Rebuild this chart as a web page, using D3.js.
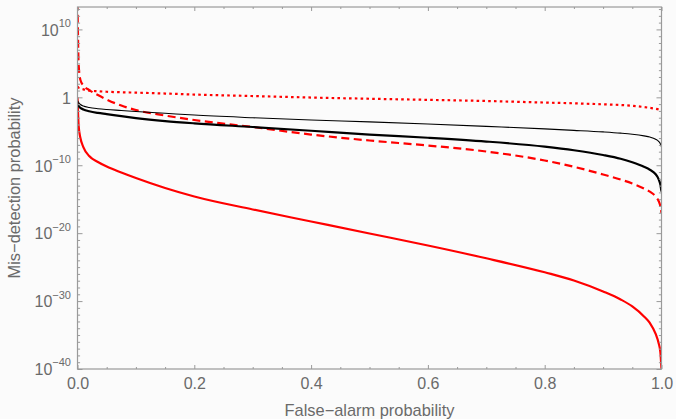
<!DOCTYPE html>
<html><head><meta charset="utf-8">
<script src="https://cdn.jsdelivr.net/npm/d3@7/dist/d3.min.js"></script>
<style>
html,body{margin:0;padding:0;background:#fbfbfb;}
svg{display:block;}
text{font-family:"Liberation Sans",Arial,sans-serif;}
</style></head>
<body>
<svg id="chart" width="676" height="419"></svg>
<script>
// False-alarm probability sample points
const pfa = [0, 0.002, 0.005, 0.01, 0.02, 0.035, 0.05, 0.075, 0.1, 0.15, 0.2, 0.3, 0.4, 0.5, 0.6, 0.7, 0.8, 0.85, 0.9, 0.93, 0.95, 0.97, 0.98, 0.99, 0.995, 0.998, 1.0];
// log10 of mis-detection probability for each curve
const redSolidLog = [0, -4.22, -5.99, -7.32, -8.64, -9.52, -10.19, -11.07, -11.88, -13.35, -14.60, -16.51, -18.28, -20.05, -21.81, -23.70, -25.76, -26.96, -28.58, -29.76, -30.79, -32.26, -33.22, -34.84, -36.16, -37.49, -40];
const redDashedLog = [14, 4.75, 2.55, 1.74, 1.07, 0.34, -0.32, -1.21, -1.87, -2.68, -3.34, -4.37, -5.48, -6.36, -7.09, -7.98, -9.30, -10.23, -11.36, -12.10, -12.69, -13.42, -13.89, -14.60, -15.26, -16.0, -17.03];
const redDottedLog = [1.6, 1.41, 1.30, 1.18, 1.00, 0.90, 0.82, 0.75, 0.69, 0.56, 0.41, 0.19, -0.03, -0.21, -0.37, -0.54, -0.77, -0.88, -1.03, -1.13, -1.25, -1.43, -1.55, -1.69, -1.80, -1.90, -1.97];
const blackThinLog = [-0.47, -0.77, -1.06, -1.28, -1.50, -1.68, -1.80, -1.94, -2.09, -2.35, -2.61, -3.00, -3.34, -3.61, -3.93, -4.28, -4.65, -4.86, -5.09, -5.27, -5.43, -5.67, -5.84, -6.17, -6.48, -6.82, -7.27];
const blackThickLog = [-0.91, -1.28, -1.55, -1.78, -2.05, -2.30, -2.47, -2.78, -3.05, -3.49, -3.83, -4.37, -4.92, -5.48, -5.95, -6.51, -7.26, -7.79, -8.49, -9.05, -9.57, -10.23, -10.66, -11.33, -12.03, -12.84, -13.87];

const xTicksMajor = [0, 0.2, 0.4, 0.6, 0.8, 1.0];
const xTickLabels = ["0.0", "0.2", "0.4", "0.6", "0.8", "1.0"];
const yTickExps = [10, 0, -10, -20, -30, -40];
const yDomainExp = [-40, 13.3];

const W = 676, H = 419;
const m = {left: 77.5, right: 661.5, top: 7, bottom: 369};
const svg = d3.select("#chart");
svg.append("rect").attr("width", W).attr("height", H).attr("fill", "#fbfbfb");

const x = d3.scaleLinear().domain([0, 1]).range([m.left, m.right]);
const y = d3.scaleLog().domain([10 ** yDomainExp[0], 10 ** yDomainExp[1]]).range([m.bottom, m.top]);

svg.append("clipPath").attr("id", "clip").append("rect")
  .attr("x", m.left).attr("y", m.top).attr("width", m.right - m.left).attr("height", m.bottom - m.top);

const series = [
  {vals: redSolidLog, color: "#ff0000", width: 2.2, dash: null},
  {vals: redDashedLog, color: "#ff0000", width: 2.2, dash: "8,4.5"},
  {vals: redDottedLog, color: "#ff0000", width: 2.2, dash: "2.6,3.2"},
  {vals: blackThinLog, color: "#000000", width: 1.1, dash: null},
  {vals: blackThickLog, color: "#000000", width: 2.2, dash: null}
];
const line = d3.line().x(d => x(d[0])).y(d => y(d[1])).curve(d3.curveMonotoneX);
const g = svg.append("g").attr("clip-path", "url(#clip)");
series.forEach(s => {
  const pts = pfa.map((p, i) => [p, 10 ** s.vals[i]]);
  g.append("path").attr("d", line(pts)).attr("fill", "none")
    .attr("stroke", s.color).attr("stroke-width", s.width)
    .attr("stroke-dasharray", s.dash).attr("stroke-linejoin", "round");
});

const frameColor = "#9a9a9a", textColor = "#6a6a6a";
const tickFont = 16, titleFont = 16.4;
const yMajor = yTickExps.map(e => 10 ** e);
const yMinor = d3.range(-40, 14).filter(e => e % 10 !== 0).map(e => 10 ** e);
const xMinor = d3.range(1, 20).map(i => i * 0.05).filter(v => Math.abs(v * 5 - Math.round(v * 5)) > 1e-6);

function styleAxis(sel) {
  sel.select(".domain").remove();
  sel.selectAll(".tick line").attr("stroke", frameColor);
  sel.selectAll("text").attr("fill", textColor).attr("font-size", tickFont);
}
// left
const la = svg.append("g").attr("transform", `translate(${m.left},0)`)
  .call(d3.axisLeft(y).tickValues(yMajor).tickSizeInner(-5).tickSizeOuter(0).tickPadding(6.5).tickFormat(() => ""));
styleAxis(la);
la.selectAll(".tick text").each(function(d) {
  const e = Math.round(Math.log10(d));
  const t = d3.select(this).text(null).attr("dy", "0.36em");
  if (e === 0) { t.text("1"); }
  else {
    t.append("tspan").text("10");
    t.append("tspan").attr("font-size", 11).attr("dy", "-0.8em").text(String(e).replace("-", "\u2212"));
  }
});
svg.append("g").attr("transform", `translate(${m.left},0)`)
  .call(d3.axisLeft(y).tickValues(yMinor).tickSizeInner(-2.6).tickSizeOuter(0).tickFormat(() => "")).call(styleAxis);
// right
svg.append("g").attr("transform", `translate(${m.right},0)`)
  .call(d3.axisRight(y).tickValues(yMajor).tickSizeInner(-5).tickSizeOuter(0).tickFormat(() => "")).call(styleAxis);
svg.append("g").attr("transform", `translate(${m.right},0)`)
  .call(d3.axisRight(y).tickValues(yMinor).tickSizeInner(-2.6).tickSizeOuter(0).tickFormat(() => "")).call(styleAxis);
// bottom
const ba = svg.append("g").attr("transform", `translate(0,${m.bottom})`)
  .call(d3.axisBottom(x).tickValues(xTicksMajor).tickSizeInner(-4).tickSizeOuter(0).tickPadding(9)
    .tickFormat((d, i) => xTickLabels[i]));
styleAxis(ba);
svg.append("g").attr("transform", `translate(0,${m.bottom})`)
  .call(d3.axisBottom(x).tickValues(xMinor).tickSizeInner(-2).tickSizeOuter(0).tickFormat(() => "")).call(styleAxis);
// top
svg.append("g").attr("transform", `translate(0,${m.top})`)
  .call(d3.axisTop(x).tickValues(xTicksMajor).tickSizeInner(-4).tickSizeOuter(0).tickFormat(() => "")).call(styleAxis);
svg.append("g").attr("transform", `translate(0,${m.top})`)
  .call(d3.axisTop(x).tickValues(xMinor).tickSizeInner(-2).tickSizeOuter(0).tickFormat(() => "")).call(styleAxis);

// frame
svg.append("rect").attr("x", m.left).attr("y", m.top).attr("width", m.right - m.left).attr("height", m.bottom - m.top)
  .attr("fill", "none").attr("stroke", frameColor).attr("stroke-width", 1.2);

// titles
svg.append("text").attr("x", (m.left + m.right) / 2).attr("y", 416).attr("text-anchor", "middle")
  .attr("fill", textColor).attr("font-size", titleFont).text("False\u2212alarm probability");
svg.append("text").attr("transform", `translate(20,${(m.top + m.bottom) / 2}) rotate(-90)`).attr("text-anchor", "middle")
  .attr("fill", textColor).attr("font-size", titleFont).text("Mis\u2212detection probability");
</script>
</body></html>
